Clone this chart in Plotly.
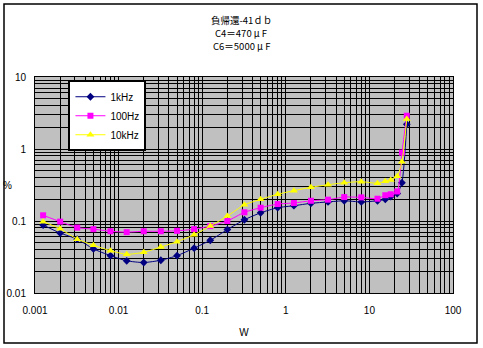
import plotly.graph_objects as go

# Output power (W)
power_w = [0.00125, 0.002, 0.0032, 0.005, 0.008, 0.0125, 0.02, 0.032, 0.05, 0.08,
           0.125, 0.2, 0.32, 0.5, 0.8, 1.25, 2, 3.2, 5, 8, 12.5, 15.5, 18, 21.5, 24.5, 28]

# Distortion (%)
thd_1khz = [0.088, 0.068, 0.056, 0.041, 0.033, 0.028, 0.0265, 0.0285, 0.033, 0.042,
            0.054, 0.076, 0.104, 0.130, 0.153, 0.163, 0.176, 0.184, 0.191, 0.184,
            0.191, 0.200, 0.218, 0.240, 0.340, 2.2]
thd_100hz = [0.120, 0.098, 0.081, 0.077, 0.072, 0.070, 0.072, 0.072, 0.073, 0.077,
             0.085, 0.100, 0.132, 0.153, 0.172, 0.178, 0.191, 0.198, 0.215, 0.213,
             0.204, 0.228, 0.235, 0.257, 0.89, 2.9]
thd_10khz = [0.098, 0.078, 0.056, 0.046, 0.0387, 0.0345, 0.0368, 0.0435, 0.0516, 0.0645,
             0.085, 0.117, 0.168, 0.200, 0.235, 0.264, 0.294, 0.319, 0.340, 0.352,
             0.334, 0.356, 0.371, 0.417, 0.667, 2.6]

x_tickvals = [0.001, 0.01, 0.1, 1, 10, 100]
x_ticktext = ["0.001", "0.01", "0.1", "1", "10", "100"]
y_tickvals = [0.01, 0.1, 1, 10]
y_ticktext = ["0.01", "0.1", "1", "10"]

title_lines = ["負帰還-41ｄｂ", "C4＝470 μ F", "C6＝5000 μ F"]

series = [
    ("1kHz", thd_1khz, "#000080", "diamond", 6),
    ("100Hz", thd_100hz, "#FF00FF", "square", 6),
    ("10kHz", thd_10khz, "#FFFF00", "triangle-up", 7),
]

fig = go.Figure()
for name, vals, color, sym, sz in series:
    fig.add_trace(go.Scatter(
        x=power_w, y=vals, name=name, mode="lines+markers",
        line=dict(color=color, width=1, shape="spline", smoothing=0.6),
        marker=dict(color=color, symbol=sym, size=sz, line=dict(width=0)),
        legendgroup=name,
    ))

font_main = "Liberation Sans, Arial, sans-serif"

fig.update_layout(
    width=483, height=348,
    margin=dict(l=35, r=30, t=77, b=55, autoexpand=False),
    paper_bgcolor="white",
    plot_bgcolor="#C0C0C0",
    font=dict(family=font_main, size=10, color="black"),
    showlegend=True,
    legend=dict(
        x=0.08, y=0.985, xanchor="left", yanchor="top",
        bgcolor="white", bordercolor="black", borderwidth=2,
        font=dict(family=font_main, size=10, color="black"),
        tracegroupgap=0,
        itemwidth=30,
        entrywidth=56,
    ),
    xaxis=dict(
        type="log", range=[-3, 2], automargin=False,
        tickvals=x_tickvals, ticktext=x_ticktext,
        showgrid=True, gridcolor="black", gridwidth=1,
        minor=dict(dtick="D1", showgrid=True, gridcolor="black", gridwidth=1, ticks=""),
        showline=True, linecolor="black", linewidth=1, mirror=True,
        ticks="", ticklabelstandoff=8,
        title=dict(text="W", standoff=13, font=dict(size=10)),
        zeroline=False,
    ),
    yaxis=dict(
        type="log", range=[-2, 1], automargin=False,
        tickvals=y_tickvals, ticktext=y_ticktext,
        showgrid=True, gridcolor="black", gridwidth=1,
        minor=dict(dtick="D1", showgrid=True, gridcolor="black", gridwidth=1, ticks=""),
        showline=True, linecolor="black", linewidth=1, mirror=True,
        ticks="", ticklabelstandoff=6,
        zeroline=False,
    ),
)

# "%" axis label placed horizontally at left
fig.add_annotation(text="%", xref="paper", yref="paper", x=-0.065, y=0.5,
                   xanchor="center", yanchor="middle", showarrow=False,
                   font=dict(family=font_main, size=10, color="black"))

# Title (three lines, separate annotations)
for i, t in enumerate(title_lines):
    fig.add_annotation(text=t, xref="paper", yref="paper",
                       x=(241 - 35) / 418, y=(293 - (20 + 13 * i)) / 216,
                       xanchor="center", yanchor="middle", showarrow=False,
                       borderpad=0,
                       font=dict(family="Noto Sans CJK JP", size=9.5, color="black"))

# Outer chart border
fig.add_shape(type="rect", xref="paper", yref="paper",
              x0=(4 - 35) / 418, x1=(477 - 35) / 418,
              y0=(293 - 343) / 216, y1=(293 - 4) / 216,
              line=dict(color="black", width=1.5), fillcolor="rgba(0,0,0,0)", layer="above")

fig.write_html("out.html")
